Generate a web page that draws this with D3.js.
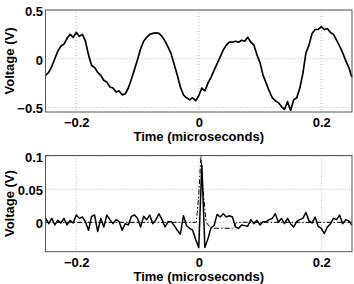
<!DOCTYPE html>
<html>
<head>
<meta charset="utf-8">
<script src="https://cdn.jsdelivr.net/npm/d3@7"></script>
<style>
    body { margin: 0; background: #fff; }
    svg { display: block; font-family: "Liberation Sans", Arial, Helvetica, sans-serif; font-weight: bold; }
</style>
</head>
<body>
<svg id="chart" width="354" height="284"></svg>
<script>

// Data

// samples are taken every 0.005 microseconds starting at -0.25
const sampleStart = -0.25;
const sampleStep = 0.005;

const timeTicks = [-0.2, 0, 0.2];
const topTicks = [-0.5, 0, 0.5];
const bottomTicks = [0, 0.05, 0.1];

const topVoltage = [
    -0.17, -0.14, -0.08, 0.0, 0.08, 0.13, 0.15, 0.21, 0.25, 0.22,
    0.27, 0.23, 0.25, 0.18, 0.04, -0.07, -0.09, -0.14, -0.17, -0.22,
    -0.24, -0.29, -0.30, -0.34, -0.33, -0.37, -0.36, -0.30, -0.21, -0.11,
    -0.01, 0.10, 0.18, 0.22, 0.25, 0.26, 0.265, 0.26, 0.23, 0.18,
    0.12, 0.05, -0.06, -0.17, -0.29, -0.37, -0.40, -0.42, -0.40, -0.43,
    -0.38, -0.30, -0.33, -0.25, -0.19, -0.12, -0.05, 0.02, 0.09, 0.14,
    0.17, 0.17, 0.18, 0.17, 0.19, 0.18, 0.22, 0.17, 0.14, 0.04,
    -0.04, -0.17, -0.25, -0.33, -0.40, -0.43, -0.45, -0.49, -0.52, -0.44,
    -0.53, -0.42, -0.40, -0.30, -0.15, 0.06, 0.14, 0.26, 0.30, 0.30,
    0.33, 0.30, 0.31, 0.27, 0.25, 0.19, 0.13, 0.06, -0.02, -0.09, -0.19
];

const bottomVoltage = [
    0.006, -0.002, 0.006, -0.004, 0.003, -0.001, 0.006, -0.004, 0.003, -0.001,
    0.011, 0.006, 0.008, 0.001, -0.012, 0.009, 0.011, -0.014, 0.006, -0.007,
    0.011, 0.004, -0.002, 0.004, 0.001, -0.012, -0.002, -0.004, 0.009, 0.011,
    0.006, -0.007, 0.009, 0.004, 0.011, -0.002, 0.004, 0.013, 0.004, -0.007,
    0.001, 0.001, -0.005, -0.012, -0.018, 0.010, -0.005, -0.009, -0.012, -0.026,
    -0.038, 0.087, -0.038, -0.025, -0.008, -0.005, 0.012, 0.008, 0.013, 0.008,
    0.010, 0.008, -0.007, -0.009, -0.004, -0.005, -0.006, 0.004, -0.002, 0.003,
    -0.004, 0.001, 0.001, 0.004, 0.006, 0.013, 0.000, 0.006, -0.002, 0.006,
    -0.002, -0.007, 0.001, 0.004, 0.006, 0.015, 0.002, -0.001, 0.008, -0.006,
    -0.009, -0.017, -0.007, -0.002, 0.006, 0.004, 0.011, -0.002, 0.004, 0.002, -0.004
];

// fitted pulse (dash-dot)
const modelTime = [-0.25, -0.004, 0.0, 0.0035, 0.007, 0.012, 0.02, 0.055, 0.062, 0.25];
const modelVoltage = [0, 0, 0.04, 0.1, 0.05, 0.0, -0.009, -0.009, 0, 0];

// Layout

const svg = d3.select("#chart");

const x = d3.scaleLinear()
    .domain([-0.2502, 0.2502])
    .range([45.5, 352]);

const fmt = d3.format("~g");

const sampleTime = (d, i) => sampleStart + i * sampleStep;

drawPanel({
    top: 10, bottom: 112,
    domain: [-0.546, 0.5],
    ticks: topTicks,
    series: [
        { t: topVoltage.map(sampleTime), v: topVoltage, width: 1.7, dash: null }
    ]
});

drawPanel({
    top: 155.5, bottom: 251.7,
    domain: [-0.0445, 0.1012],
    ticks: bottomTicks,
    series: [
        { t: modelTime, v: modelVoltage, width: 1, dash: "5,2,1.5,2" },
        { t: bottomVoltage.map(sampleTime), v: bottomVoltage, width: 1.5, dash: null }
    ]
});

function drawPanel(p) {

    const y = d3.scaleLinear()
        .domain(p.domain)
        .range([p.bottom, p.top]);

    const g = svg.append("g");

    // dotted grid
    g.append("g")
        .selectAll("line")
        .data(timeTicks)
        .join("line")
        .attr("x1", d => x(d)).attr("x2", d => x(d))
        .attr("y1", p.top).attr("y2", p.bottom)
        .attr("stroke", "#b8b8b8")
        .attr("stroke-width", 1)
        .attr("stroke-dasharray", "1,2");

    g.append("g")
        .selectAll("line")
        .data(p.ticks)
        .join("line")
        .attr("x1", x.range()[0]).attr("x2", x.range()[1])
        .attr("y1", d => y(d)).attr("y2", d => y(d))
        .attr("stroke", "#b8b8b8")
        .attr("stroke-width", 1)
        .attr("stroke-dasharray", "1,2");

    // traces
    p.series.forEach(s => {
        const line = d3.line()
            .x((d, i) => x(s.t[i]))
            .y(d => y(d));

        g.append("path")
            .datum(s.v)
            .attr("fill", "none")
            .attr("stroke", "#000")
            .attr("stroke-width", s.width)
            .attr("stroke-linejoin", "round")
            .attr("stroke-dasharray", s.dash)
            .attr("d", line);
    });

    // box
    g.append("rect")
        .attr("x", x.range()[0])
        .attr("y", p.top)
        .attr("width", x.range()[1] - x.range()[0])
        .attr("height", p.bottom - p.top)
        .attr("fill", "none")
        .attr("stroke", "#555")
        .attr("stroke-width", 1);

    // axes
    const xAxis = g.append("g")
        .attr("transform", `translate(0, ${p.bottom})`)
        .call(d3.axisBottom(x).tickValues(timeTicks).tickSize(0).tickPadding(6).tickFormat(fmt));

    const yAxis = g.append("g")
        .attr("transform", `translate(${x.range()[0]}, 0)`)
        .call(d3.axisLeft(y).tickValues(p.ticks).tickSize(0).tickPadding(2.5).tickFormat(fmt));

    [xAxis, yAxis].forEach(a => {
        a.select(".domain").remove();
        a.attr("font-family", null)
            .attr("font-size", 13);
        a.selectAll("text").attr("fill", "#000");
    });

    yAxis.selectAll("text").attr("dy", "0.42em");

    // labels
    g.append("text")
        .attr("x", (x.range()[0] + x.range()[1]) / 2)
        .attr("y", p.bottom + 29)
        .attr("text-anchor", "middle")
        .attr("font-size", 13)
        .text("Time (microseconds)");

    g.append("text")
        .attr("transform", `translate(14, ${(p.top + p.bottom) / 2}) rotate(-90)`)
        .attr("text-anchor", "middle")
        .attr("font-size", 13)
        .text("Voltage (V)");
};

</script>
</body>
</html>
